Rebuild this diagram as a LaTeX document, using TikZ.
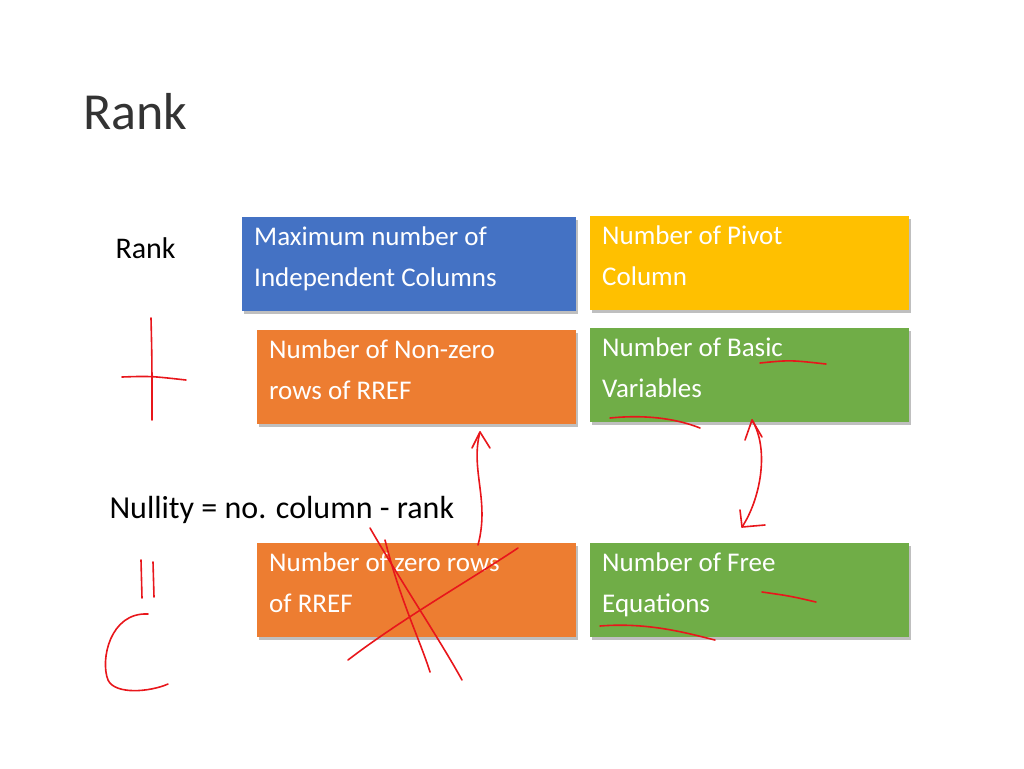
\documentclass[tikz,border=0pt]{standalone}
\usepackage{fontspec}
\setmainfont{Carlito}
\definecolor{bl}{HTML}{4472C4}
\definecolor{ye}{HTML}{FFC000}
\definecolor{og}{HTML}{ED7D31}
\definecolor{gr}{HTML}{70AD47}
\definecolor{pen}{HTML}{E8161B}
\begin{document}
\begin{tikzpicture}[x=1pt,y=-1pt,
 boxx/.style={anchor=north west,inner sep=0pt,minimum height=94pt,text width=300pt,align=left,text=white,font=\fontsize{27}{41}\selectfont,drop shadow/.style={}},
 ink/.style={pen,line width=1.6pt,line cap=round,line join=round}]
\useasboundingbox (0,0) rectangle (1024,768);
\node[anchor=west,font=\fontsize{52}{60}\selectfont,text=black!80] (title) at (80,112) {Rank};
\node[anchor=west,font=\fontsize{30}{36}\selectfont] (rk) at (112,248) {Rank};
\node[anchor=west,font=\fontsize{32}{38}\selectfont] (nul) at (106,510) {Nullity = no. column - rank};
\foreach \n/\x/\y/\w/\c/\t in {
 a/242/217/334/bl/{Maximum number of\\Independent Columns},
 b/590/216/319/ye/{Number of Pivot\\Column},
 c/257/330/319/og/{Number of Non-zero\\rows of RREF},
 d/590/328/319/gr/{Number of Basic\\Variables},
 e/257/543/319/og/{Number of zero rows\\of RREF},
 f/590/543/319/gr/{Number of Free\\Equations}}{
 \fill[black!25] (\x+2,\y+3) rectangle ++(\w,94);
 \fill[\c] (\x,\y) rectangle ++(\w,94);
 \node[anchor=north west,text=white,align=left,font=\fontsize{27}{41}\selectfont,inner sep=0pt] (\n) at (\x+12,\y+10) {\t};
}
% plus
\draw[ink] (151,318) .. controls (152,360) .. (152,420);
\draw[ink] (122,377) .. controls (150,376) .. (186,380);
% equals
\draw[ink] (141,560) -- (142,598);
\draw[ink] (153,562) -- (154,597);
% C
\draw[ink] (148,614) .. controls (110,612) and (100,660) .. (108,680) .. controls (115,695) and (150,692) .. (168,684);
% arrow up left
\draw[ink] (478,545) .. controls (490,500) and (470,470) .. (480,432);
\draw[ink] (472,448) -- (480,432) -- (490,448);
% double arrow right
\draw[ink] (752,420) .. controls (770,450) and (760,500) .. (742,527);
\draw[ink] (745,440) -- (752,420) -- (762,437);
\draw[ink] (740,510) -- (742,527) -- (765,525);
% X
\draw[ink] (370,528) .. controls (400,580) and (440,640) .. (462,680);
\draw[ink] (348,660) .. controls (400,620) and (470,580) .. (518,548);
\draw[ink] (385,540) .. controls (400,600) and (420,640) .. (430,672);
% underlines
\draw[ink] (610,418) .. controls (650,414) and (680,420) .. (700,428);
\draw[ink] (760,363) .. controls (790,360) .. (826,364);
\draw[ink] (762,592) .. controls (790,596) .. (816,602);
\draw[ink] (600,626) .. controls (650,622) and (690,634) .. (715,640);
\end{tikzpicture}
\end{document}
